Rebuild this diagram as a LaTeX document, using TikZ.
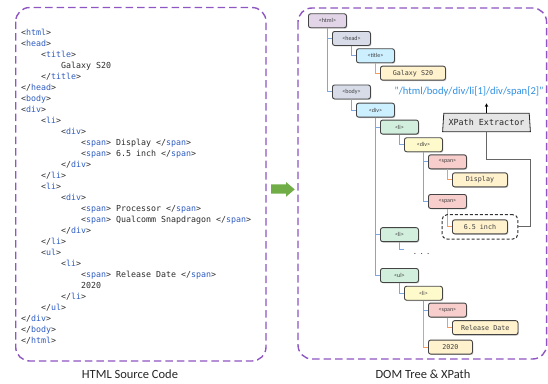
\documentclass[tikz,border=0pt]{standalone}
\usepackage{fontspec}
\setmainfont{Carlito}
\newfontfamily\codefont{DejaVu Sans Mono}
\usetikzlibrary{shapes.geometric,shadows,arrows.meta,fit}
\definecolor{tagblue}{HTML}{2E5CC0}
\definecolor{codetxt}{HTML}{2B2B2B}
\definecolor{panelc}{HTML}{8F55C2}
\definecolor{linkblue}{HTML}{7EA6E0}
\definecolor{linkorange}{HTML}{F79A5A}
\definecolor{bordc}{HTML}{444444}
\definecolor{cpurple}{HTML}{E1D5E7}
\definecolor{cgray}{HTML}{D7DCE8}
\definecolor{ccyan}{HTML}{CCF0FF}
\definecolor{cgreen}{HTML}{D2EEDC}
\definecolor{cyellow}{HTML}{FFFACC}
\definecolor{cpink}{HTML}{F8CECC}
\definecolor{ctext}{HTML}{FFF2CC}
\definecolor{xpathc}{HTML}{2F8FE0}
\definecolor{arrowgreen}{HTML}{70AD47}
\newcommand\ot[1]{<\textcolor{tagblue}{#1}>}
\newcommand\ct[1]{</\textcolor{tagblue}{#1}>}
\tikzset{
  panel/.style={draw=panelc, line width=1.4pt, dash pattern=on 7.5pt off 4pt, rounded corners=14pt},
  codeline/.style={anchor=base west, inner sep=0pt, font=\codefont\fontsize{8.3}{9}\selectfont, text=codetxt},
  treebox/.style={draw=bordc, line width=0.9pt, rounded corners=2.2pt, minimum height=14pt, inner sep=0pt,
    anchor=north west, drop shadow={shadow xshift=0.9pt, shadow yshift=-0.9pt, opacity=0.35, fill=black!60}},
  tagnode/.style={treebox, minimum width=38pt, fill=#1, font=\fontsize{6}{7}\selectfont, text=black!75},
  txtnode/.style={treebox, fill=ctext, font=\codefont\fontsize{6.7}{8}\selectfont, text=black!75},
  bluelink/.style={draw=linkblue, line width=1pt},
  orangelink/.style={draw=linkorange, line width=1pt},
  caption/.style={font=\fontsize{12.5}{14}\selectfont, text=black!85},
}
\begin{document}
\begin{tikzpicture}[x=1pt,y=-1pt]
\useasboundingbox (0,0) rectangle (548,383);
% panels
\draw[panel] (15.7,7.5) rectangle (266,361);
\draw[panel] (298,8) rectangle (546.6,359);
\node[caption] (cap1) at (130,374) {HTML Source Code};
\node[caption] (cap2) at (423,374) {DOM Tree \& XPath};
% green arrow
\fill[arrowgreen] (271,184.3) -- (286,184.3) -- (286,182) -- (294.7,189.4) -- (286,196.8) -- (286,193.6) -- (271,193.6) -- cycle;
% source code
\foreach \lv/\t [count=\i] in {
  0/{\ot{html}}, 0/{\ot{head}}, 1/{\ot{title}}, 2/{Galaxy S20}, 1/{\ct{title}},
  0/{\ct{head}}, 0/{\ot{body}}, 0/{\ot{div}}, 1/{\ot{li}}, 2/{\ot{div}},
  3/{\ot{span} Display \ct{span}}, 3/{\ot{span} 6.5 inch \ct{span}}, 2/{\ct{div}}, 1/{\ct{li}},
  1/{\ot{li}}, 2/{\ot{div}}, 3/{\ot{span} Processor \ct{span}}, 3/{\ot{span} Qualcomm Snapdragon \ct{span}},
  2/{\ct{div}}, 1/{\ct{li}}, 1/{\ot{ul}}, 2/{\ot{li}}, 3/{\ot{span} Release Date \ct{span}}, 3/{2020},
  2/{\ct{li}}, 1/{\ct{ul}}, 0/{\ct{div}}, 0/{\ct{body}}, 0/{\ct{html}}}
  \node[codeline] (c\i) at ({21+20*\lv},{35.3+11.02*(\i-1)}) {\t};
% DOM tree nodes
\node[tagnode=cpurple] (html) at (308,13.3) {<html>};
\node[tagnode=cgray] (head) at (332,31) {<head>};
\node[tagnode=ccyan] (title) at (356,48.3) {<title>};
\node[txtnode, minimum width=65pt] (galaxy) at (380,65.7) {Galaxy S20};
\node[tagnode=cgray] (body) at (332,84.5) {<body>};
\node[tagnode=ccyan] (diva) at (356,102.7) {<div>};
\node[tagnode=cgreen] (lia) at (380,119.6) {<li>};
\node[tagnode=cyellow] (divb) at (404,137.3) {<div>};
\node[tagnode=cpink] (spana) at (428,154.4) {<span>};
\node[txtnode, minimum width=55pt] (display) at (452,172.4) {Display};
\node[tagnode=cpink] (spanb) at (428,194) {<span>};
\node[txtnode, minimum width=55pt] (inch) at (452,219.4) {6.5 inch};
\node[tagnode=cgreen] (lib) at (380,227.2) {<li>};
\node[inner sep=0pt, font=\fontsize{9}{10}\selectfont, text=black!80] (dots) at (421.7,254) {.\hspace{4.3pt}.\hspace{4.3pt}.};
\node[tagnode=cgreen] (ul) at (380,268) {<ul>};
\node[tagnode=cyellow] (lic) at (404,285.8) {<li>};
\node[tagnode=cpink] (spanc) at (428,302.6) {<span>};
\node[txtnode, minimum width=65.5pt] (release) at (452,320.2) {Release Date};
\node[txtnode, minimum width=44pt] (year) at (428,339.6) {2020};
\coordinate (dotsin) at (403.5,249.5);
% links
\draw[bluelink] (html.south) |- (head.west);
\draw[bluelink] (html.south) |- (body.west);
\draw[bluelink] (head.south) |- (title.west);
\draw[orangelink] (title.south) |- (galaxy.west);
\draw[bluelink] (body.south) |- (diva.west);
\draw[bluelink] (diva.south) |- (lia.west);
\draw[bluelink] (diva.south) |- (lib.west);
\draw[bluelink] (diva.south) |- (ul.west);
\draw[bluelink] (lia.south) |- (divb.west);
\draw[bluelink] (divb.south) |- (spana.west);
\draw[bluelink] (divb.south) |- (spanb.west);
\draw[orangelink] (spana.south) |- (display.west);
\draw[orangelink] (spanb.south) |- (inch.west);
\draw[bluelink] (lib.south) |- (dotsin);
\draw[bluelink] (ul.south) |- (lic.west);
\draw[orangelink] (lic.south) |- (year.west);
\draw[bluelink] (lic.south) |- (spanc.west);
\draw[orangelink] (spanc.south) |- (release.west);
% XPath part
\node[font=\fontsize{10.6}{12}\selectfont, text=xpathc, inner sep=0pt] (xp) at (469,91.7) {"/html/body/div/li[1]/div/span[2]"};
\node[trapezium, trapezium left angle=81, trapezium right angle=81, trapezium stretches=true,
  minimum width=88pt, minimum height=18.4pt, inner sep=0pt, draw=black!85, line width=0.8pt, fill=black!10,
  font=\codefont\fontsize{8.4}{9}\selectfont, text=black!85] (ext) at (486.5,122.5) {XPath Extractor};
\coordinate (xa) at (486.5,103.3);
\draw[line width=0.8pt, -{Stealth[length=3.6pt,width=3.4pt]}] (ext.north) -- (xa);
\node[fit=(inch), inner xsep=10pt, inner ysep=4.7pt, draw=black!80, dash pattern=on 3pt off 2pt,
  rounded corners=5pt, line width=1pt] (hl) {};
\coordinate (bend) at (530.7,159);
\draw[draw=black!60, line width=1pt] (hl.east) -| (bend) -| (ext.south);
\end{tikzpicture}
\end{document}
